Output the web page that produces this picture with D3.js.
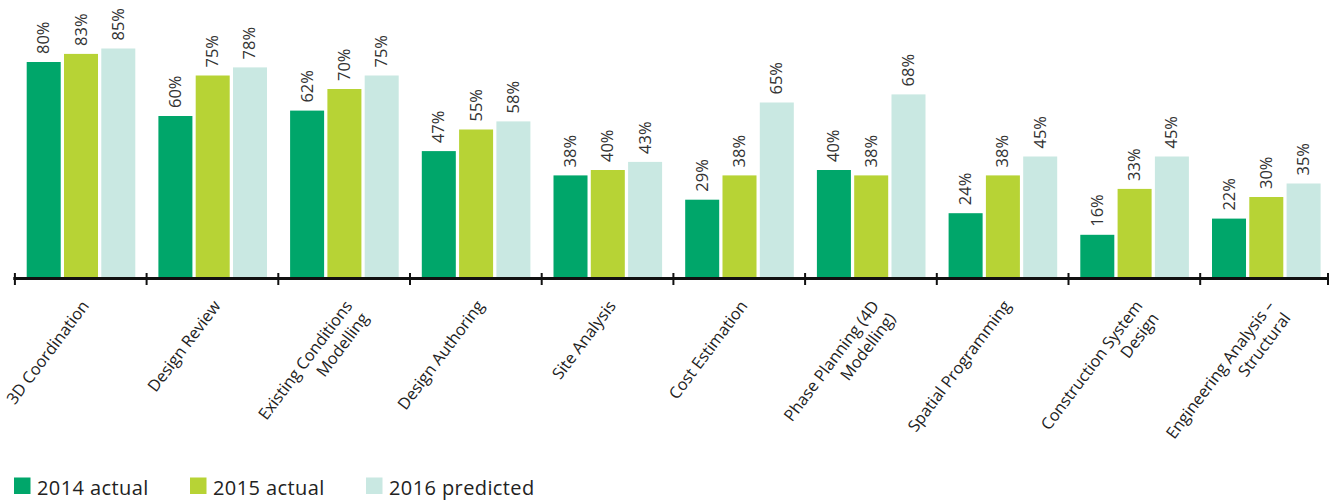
<!DOCTYPE html>
<html><head><meta charset="utf-8">
<script src="https://cdn.jsdelivr.net/npm/d3@7"></script>
<style>body{margin:0;background:#fff;} svg{display:block;}</style>
</head><body>
<svg id="c" width="1333" height="500"></svg>
<script>
const categories = [
  ["3D Coordination"],
  ["Design Review"],
  ["Existing Conditions", "Modelling"],
  ["Design Authoring"],
  ["Site Analysis"],
  ["Cost Estimation"],
  ["Phase Planning (4D", "Modelling)"],
  ["Spatial Programming"],
  ["Construction System", "Design"],
  ["Engineering Analysis –", "Structural"]
];
const seriesNames = ["2014 actual", "2015 actual", "2016 predicted"];
const values2014 = [80, 60, 62, 47, 38, 29, 40, 24, 16, 22];
const values2015 = [83, 75, 70, 55, 40, 38, 38, 38, 33, 30];
const values2016 = [85, 78, 75, 58, 43, 65, 68, 45, 45, 35];
const colors = ["#00a66a", "#b7d335", "#c9e8e2"];

const series = [values2014, values2015, values2016];
const svg = d3.select("#c");
const font = "'Open Sans', sans-serif";
const x0 = d3.scaleBand().domain(d3.range(categories.length)).range([14.9, 1331.9]);
const x1 = d3.scaleBand().domain(d3.range(3)).range([11.8, 120.4]).paddingInner(0.088);
const y = d3.scaleLinear().domain([0, 100]).range([278, 8]);

const groups = svg.append("g").selectAll("g").data(categories).join("g")
  .attr("transform", (d, i) => `translate(${x0(i)},0)`);

series.forEach((vals, s) => {
  groups.append("rect")
    .attr("x", x1(s)).attr("width", x1.bandwidth())
    .attr("y", (d, i) => y(vals[i])).attr("height", (d, i) => y(0) - y(vals[i]))
    .attr("fill", colors[s]);
  groups.append("text")
    .attr("transform", (d, i) => `translate(${x1(s) + x1.bandwidth() / 2 + 5.5},${y(vals[i]) - 8}) rotate(-90)`)
    .attr("font-family", font).attr("font-size", 16.5).attr("fill", "#333")
    .text((d, i) => vals[i] + "%");
});

// axis
const axisLeft = 13.3, axisRight = 1329;
svg.append("line").attr("x1", axisLeft).attr("x2", axisRight).attr("y1", 278.5).attr("y2", 278.5)
  .attr("stroke", "#111").attr("stroke-width", 3);
const tickPos = x0.domain().map(i => x0(i)).concat([x0.range()[1]])
  .map(v => Math.max(axisLeft, Math.min(axisRight - 1, v)));
svg.append("g").selectAll("line").data(tickPos).join("line")
  .attr("x1", d => d).attr("x2", d => d).attr("y1", 273).attr("y2", 285)
  .attr("stroke", "#111").attr("stroke-width", 2);

// category labels
const lab = svg.append("g").selectAll("text").data(categories).join("text")
  .attr("transform", (d, i) => `translate(${x0(i) + x0.bandwidth() / 2 + 9},${306}) rotate(-53)`)
  .attr("text-anchor", "end").attr("font-family", font).attr("font-size", 16.3).attr("fill", "#222");
lab.each(function(d) {
  const t = d3.select(this);
  d.forEach((line, k) => {
    t.append("tspan").attr("x", 0).attr("dy", k === 0 ? 0 : "1.25em").text(line);
  });
});

// legend
const legX = [14, 190, 366];
const leg = svg.append("g").selectAll("g").data(seriesNames).join("g")
  .attr("transform", (d, i) => `translate(${legX[i]},477.5)`);
leg.append("rect").attr("width", 16.5).attr("height", 16.5).attr("fill", (d, i) => colors[i]);
leg.append("text").attr("x", 23).attr("y", 17.5).attr("font-family", font).attr("font-size", 20)
  .attr("letter-spacing", 0.4).attr("fill", "#222").text(d => d);
</script>
</body></html>
